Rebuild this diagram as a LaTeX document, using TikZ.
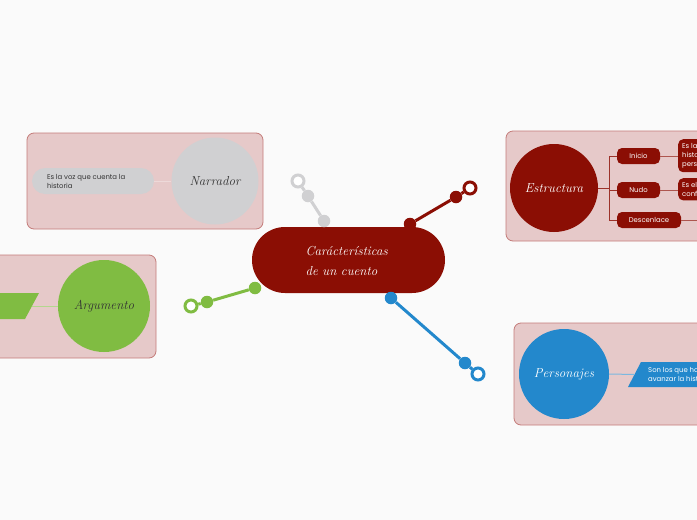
\documentclass[tikz,border=0pt]{standalone}
\usepackage{fontspec}
\newfontfamily\smallfont{Poppins}
\usetikzlibrary{shapes.misc}
\definecolor{bgc}{HTML}{FAFAFA}
\definecolor{boxfill}{HTML}{E6C9C9}
\definecolor{boxline}{HTML}{C47C7A}
\definecolor{dred}{HTML}{8B0E04}
\definecolor{lgray}{HTML}{D0D0D2}
\definecolor{lgreen}{HTML}{80BC42}
\definecolor{lblue}{HTML}{2388CC}
\tikzset{
  group/.style={draw=boxline, fill=boxfill, line width=0.8pt, rounded corners=7pt},
  topic/.style={circle, inner sep=0pt, minimum size=#1, font=\itshape\fontsize{13}{15}\selectfont},
  dot/.style={circle, fill=#1, inner sep=0pt, minimum size=12.5pt},
  ring/.style={circle, draw=#1, line width=3pt, fill=white, inner sep=0pt, minimum size=12pt},
  conn/.style={line width=3pt, draw=#1},
  smalltxt/.style={font=\smallfont\fontsize{6.9}{9}\selectfont, align=left},
  pill/.style={rectangle, rounded corners=5pt, fill=dred, text=white, inner sep=0pt, minimum height=16pt, font=\smallfont\fontsize{6.9}{8}\selectfont},
  thin/.style={line width=1pt, draw=#1}
}
\begin{document}
\begin{tikzpicture}[x=1pt,y=-1pt]
\useasboundingbox (0,0) rectangle (697,520);
\fill[bgc] (0,0) rectangle (697,520);
\clip (0,0) rectangle (697,520);

% group boxes
\draw[group] (27,133) rectangle (263,229);
\draw[group] (506,131) rectangle (720,241);
\draw[group] (-20,255) rectangle (156,358);
\draw[group] (514,323) rectangle (720,425);

% Narrador
\node[topic=87pt, fill=lgray, text=black!80] (narr) at (215,181) {Narrador};
\node[rectangle, rounded corners=13pt, fill=lgray, minimum width=122pt, minimum height=26pt, smalltxt, text=black!80, inner sep=0pt] (narrtxt) at (93,181) {\parbox{92pt}{Es la voz que cuenta la\\historia}};
\draw[thin=boxfill!70!white] (narrtxt.east) -- (narr.west);

% Estructura
\node[topic=88pt, fill=dred, text=white] (estr) at (554,188) {Estructura};
\node[pill, minimum width=43pt] (ini) at (638.5,156) {Inicio};
\node[pill, minimum width=43pt] (nudo) at (638.5,190) {Nudo};
\node[pill, minimum width=64pt] (desc) at (649,220) {Descenlace};
\coordinate (e0) at (609,188);
\draw[thin=dred!85!white] (estr.east) -- (e0);
\draw[thin=dred!85!white] (e0) |- (ini.west);
\draw[thin=dred!85!white] (e0) |- (nudo.west);
\draw[thin=dred!85!white] (e0) |- (desc.west);
\node[rectangle, rounded corners=5pt, fill=dred, text=white, anchor=north west, smalltxt, inner sep=4pt] (inid) at (678,139) {Es la parte inicial de la\\historia con los\\personajes};
\node[rectangle, rounded corners=5pt, fill=dred, text=white, anchor=north west, smalltxt, inner sep=4pt] (nudod) at (678,178) {Es el momento del\\conflicto};
\coordinate (descd) at (700,220);
\draw[thin=dred!70!white] (ini.east) -- (inid.west |- ini.east);
\draw[thin=dred!70!white] (nudo.east) -- (nudod.west |- nudo.east);
\draw[thin=dred!70!white] (desc.east) -- (descd);

% Argumento
\node[topic=92pt, fill=lgreen, text=black!80] (arg) at (104,306) {Argumento};
\fill[lgreen] (-10,293) -- (39,293) -- (25,319) -- (-10,319) -- cycle;
\coordinate (argp) at (32,306);
\draw[thin=lgreen!60!white] (argp) -- (arg.west);

% Personajes
\node[topic=90pt, fill=lblue, text=white] (pers) at (564,374) {Personajes};
\fill[lblue] (641,362) -- (720,362) -- (720,387) -- (628,387) -- cycle;
\node[smalltxt, text=white, anchor=west, inner sep=0pt] (perst) at (648,374.5) {Son los que hacen\\avanzar la historia};
\coordinate (persp) at (634.5,374.5);
\draw[thin=lblue!60!white] (pers.east) -- (persp);

% central node
\node[rectangle, rounded corners=33pt, fill=dred, minimum width=193pt, minimum height=66pt, inner sep=0pt] (main) at (348.5,260) {};
\node[text=white, align=left, font=\itshape\fontsize{13}{20}\selectfont, anchor=west] (maintxt) at (302,261) {Carácterísticas\\de un cuento};

% connectors
\node[dot=lgray] (g1) at (324,221) {};
\node[dot=lgray] (g2) at (308,196) {};
\node[ring=lgray] (g3) at (298,181) {};
\draw[conn=lgray] (g1) -- (g2) -- (g3);

\node[dot=dred] (r1) at (410,224) {};
\node[dot=dred] (r2) at (456,197) {};
\node[ring=dred] (r3) at (470,188) {};
\draw[conn=dred] (r1) -- (r2) -- (r3);

\node[dot=lgreen] (v1) at (255,288) {};
\node[dot=lgreen] (v2) at (207,302) {};
\node[ring=lgreen] (v3) at (191,306) {};
\draw[conn=lgreen] (v1) -- (v2) -- (v3);

\node[dot=lblue] (b1) at (391,298) {};
\node[dot=lblue] (b2) at (465,363) {};
\node[ring=lblue] (b3) at (478,374) {};
\draw[conn=lblue] (b1) -- (b2) -- (b3);
\end{tikzpicture}
\end{document}
